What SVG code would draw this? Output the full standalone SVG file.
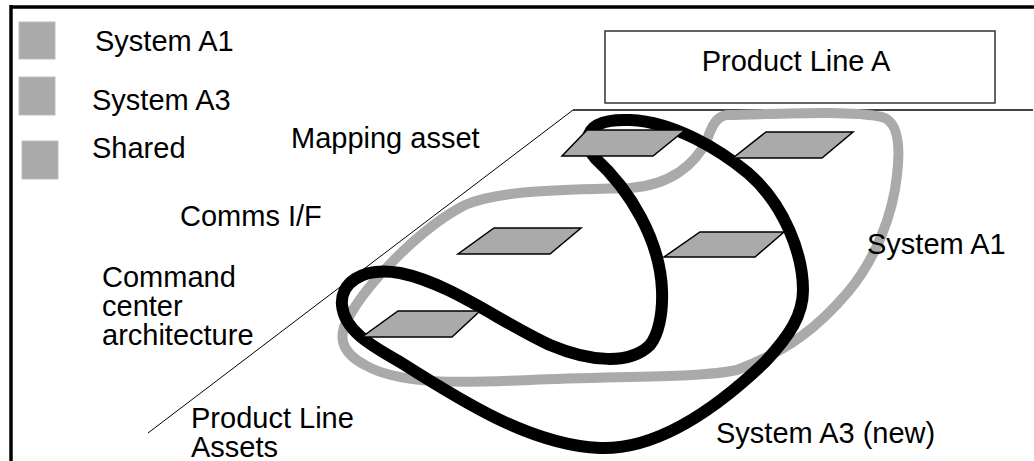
<svg xmlns="http://www.w3.org/2000/svg" width="1034" height="461" viewBox="0 0 1034 461">
<style>
text{font-family:"Liberation Sans",Arial,sans-serif;font-size:29px;fill:#000}
.sw{fill:#aaaaaa;stroke:#bdbdbd;stroke-width:1}
.pg{fill:#aaaaaa;stroke:#000;stroke-width:1.5;stroke-linejoin:miter}
.a1{fill:none;stroke:#aaaaaa;stroke-width:10;stroke-linejoin:round}
.a3{fill:none;stroke:#000;stroke-width:12;stroke-linejoin:round}
</style>
<rect width="1034" height="461" fill="#fff"/>
<g id="frame">
<line x1="10" y1="7" x2="1034" y2="7" stroke="#000" stroke-width="3.5"/>
<line x1="11" y1="5" x2="11" y2="461" stroke="#000" stroke-width="3.5"/>
</g>
<g id="legend">
<g id="legend-a1"><rect class="sw" x="19" y="22" width="36" height="37"/><text x="95" y="51">System A1</text></g>
<g id="legend-a3"><rect class="sw" x="19" y="77" width="36" height="38"/><text x="92" y="110">System A3</text></g>
<g id="legend-shared"><rect class="sw" x="22" y="141" width="36" height="38"/><text x="92" y="158">Shared</text></g>
</g>
<g id="product-line-a"><rect x="605" y="31" width="390" height="72" fill="#fff" stroke="#333" stroke-width="1.5"/><text x="796" y="71" text-anchor="middle">Product Line A</text></g>
<g id="plane">
<line x1="573" y1="110" x2="1033" y2="110" stroke="#444" stroke-width="2"/>
<line x1="573" y1="110" x2="148" y2="433" stroke="#000" stroke-width="1"/>
</g>
<g id="connectors">
<path id="system-a1-region" class="a1" d="M727,115 C780,114 850,110 882,117 C900,122 900,150 897,175 C893,215 875,260 848,292 C820,325 790,350 737,370 C700,378 620,376 530,380 C460,383 400,385 365,365 C340,352 337,335 350,315 C368,283 420,228 465,205 C500,190 560,190 630,188 C670,185 695,165 707,140 C712,125 717,116 727,115 Z"/>
<path id="system-a3-region" class="a3" d="M650,345 C630,365 590,362 550,345 C500,322 450,283 400,273 C360,266 340,285 342,305 C344,330 370,345 400,362 C460,400 530,445 600,448 C660,450 720,405 765,362 C790,335 803,315 803,290 C803,255 785,205 748,173 C720,150 675,122 630,120 C605,119 590,125 588,138 C587,146 590,152 595,158 C630,190 660,240 662,290 C663,315 658,335 650,345 Z"/>
</g>
<g id="asset-mapping"><polygon class="pg" points="587,130 685,130 653,156 562,156"/></g>
<g id="asset-mapping-a1"><polygon class="pg" points="766,132 853,132 822,158 733,158"/></g>
<g id="asset-comms"><polygon class="pg" points="494,228 581,228 550,254 458,254"/></g>
<g id="asset-comms-a1"><polygon class="pg" points="700,232 784,232 755,257 664,257"/></g>
<g id="asset-command"><polygon class="pg" points="398,311 480,311 452,337 362,337"/></g>
<g id="labels">
<text x="291" y="148">Mapping asset</text>
<text x="180" y="226">Comms I/F</text>
<text x="102" y="287">Command<tspan x="102" dy="29">center</tspan><tspan x="102" dy="29">architecture</tspan></text>
<text x="191" y="428">Product Line<tspan x="191" dy="29">Assets</tspan></text>
<text x="867" y="254">System A1</text>
<text x="716" y="443">System A3 (new)</text>
</g>
</svg>
